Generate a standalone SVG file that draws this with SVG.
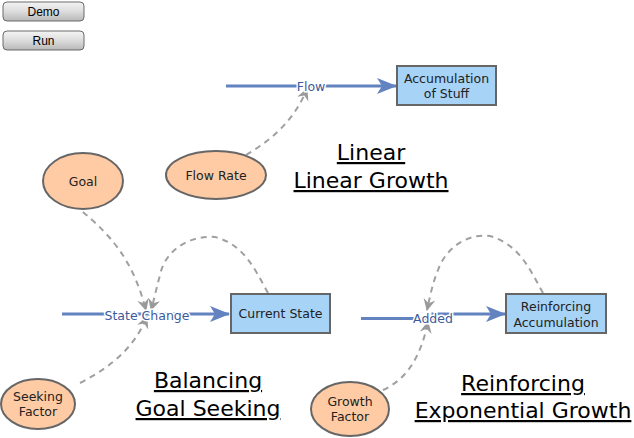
<svg xmlns="http://www.w3.org/2000/svg" width="634" height="438" viewBox="0 0 634 438">
<defs>
<linearGradient id="btn" x1="0" y1="0" x2="0" y2="1">
<stop offset="0" stop-color="#f4f4f4"/><stop offset="0.5" stop-color="#dcdcdc"/><stop offset="1" stop-color="#b8b8b8"/>
</linearGradient>
<marker id="fa" viewBox="0 0 20 16" refX="19" refY="8" markerWidth="20" markerHeight="16" markerUnits="userSpaceOnUse" orient="auto">
<path d="M0,0 L20,8 L0,16 L5,8 Z" fill="#6282c0"/>
</marker>
<marker id="da" viewBox="0 0 12 12" refX="11" refY="6" markerWidth="12" markerHeight="12" markerUnits="userSpaceOnUse" orient="auto">
<path d="M0,0 L12,6 L0,12 L4,6 Z" fill="#9a9a9a"/>
</marker>
</defs>
<style>
.btn{fill:url(#btn);stroke:#6a6a6a;stroke-width:1}
.btxt{font-family:"Liberation Sans",Arial,sans-serif;font-size:12px;fill:#000;text-anchor:middle}
.flow{stroke:#6282c0;stroke-width:3;fill:none}
.flbl{font-family:"DejaVu Sans",sans-serif;font-size:12.5px;fill:#3c5a9c;text-anchor:middle;stroke:#fff;stroke-width:3;paint-order:stroke}
.stock{fill:#a7d3f6;stroke:#666;stroke-width:2}
.aux{fill:#ffcba4;stroke:#666;stroke-width:2}
.ntxt{font-family:"DejaVu Sans",sans-serif;font-size:12.5px;fill:#222;text-anchor:middle}
.link{stroke:#a0a0a0;stroke-width:2;stroke-dasharray:6,5;fill:none}
.title{font-family:"DejaVu Sans",sans-serif;font-size:22px;fill:#000;text-anchor:middle;text-decoration:underline}
</style>
<g id="btn-demo"><rect class="btn" x="3" y="2" width="81" height="19" rx="4"/><text class="btxt" x="43.5" y="15.5">Demo</text></g>
<g id="btn-run"><rect class="btn" x="3" y="31" width="81" height="19" rx="4"/><text class="btxt" x="43.5" y="45">Run</text></g>

<g id="connectors">
<path class="flow" d="M226,86 L396,86" marker-end="url(#fa)"/>
<path class="flow" d="M62,314 L229,314" marker-end="url(#fa)"/>
<path class="flow" d="M361,318.5 L433,318.5 L433,314 L505,314" marker-end="url(#fa)"/>
<path class="link" d="M246,155 C275,138 295,118 307,89" marker-end="url(#da)"/>
<path class="link" d="M74,205 C120,240 135,270 146,310" marker-end="url(#da)"/>
<path class="link" d="M268,293 C255,270 245,245 215,237 C190,235 165,250 160,275 C156,290 154,300 151,310" marker-end="url(#da)"/>
<path class="link" d="M80,383 C115,365 135,345 147,317" marker-end="url(#da)"/>
<path class="link" d="M543,293 C530,270 520,245 490,236 C465,233 445,250 438,270 C432,285 430,297 427,310" marker-end="url(#da)"/>
<path class="link" d="M383,390 C405,380 420,360 428,322" marker-end="url(#da)"/>
</g>

<g id="flow"><text class="flbl" x="311" y="91">Flow</text></g>
<g id="accumulation-of-stuff"><rect class="stock" x="397" y="66" width="99" height="39"/><text class="ntxt" x="446.5" y="83">Accumulation</text><text class="ntxt" x="446.5" y="98">of Stuff</text></g>
<g id="flow-rate"><ellipse class="aux" cx="216" cy="175" rx="50" ry="24"/><text class="ntxt" x="216" y="179.5">Flow Rate</text></g>
<g id="title-linear"><text class="title" x="371" y="160">Linear</text><text class="title" x="371" y="188">Linear Growth</text></g>

<g id="goal"><ellipse class="aux" cx="83" cy="181" rx="40" ry="28"/><text class="ntxt" x="83" y="185.5">Goal</text></g>
<g id="state-change"><text class="flbl" x="147" y="319.5">State Change</text></g>
<g id="current-state"><rect class="stock" x="231" y="294" width="99" height="39"/><text class="ntxt" x="280.5" y="318">Current State</text></g>
<g id="seeking-factor"><ellipse class="aux" cx="38" cy="404" rx="37" ry="25"/><text class="ntxt" x="38" y="401">Seeking</text><text class="ntxt" x="38" y="415.5">Factor</text></g>
<g id="title-balancing"><text class="title" x="208" y="388">Balancing</text><text class="title" x="208" y="416">Goal Seeking</text></g>

<g id="added"><text class="flbl" x="433" y="322.5">Added</text></g>
<g id="reinforcing-accumulation"><rect class="stock" x="506" y="294" width="100" height="39"/><text class="ntxt" x="556" y="311">Reinforcing</text><text class="ntxt" x="556" y="326.5">Accumulation</text></g>
<g id="growth-factor"><ellipse class="aux" cx="350" cy="409" rx="39" ry="27"/><text class="ntxt" x="350" y="406">Growth</text><text class="ntxt" x="350" y="420.5">Factor</text></g>
<g id="title-reinforcing"><text class="title" x="523" y="391">Reinforcing</text><text class="title" x="523" y="418">Exponential Growth</text></g>
</svg>
